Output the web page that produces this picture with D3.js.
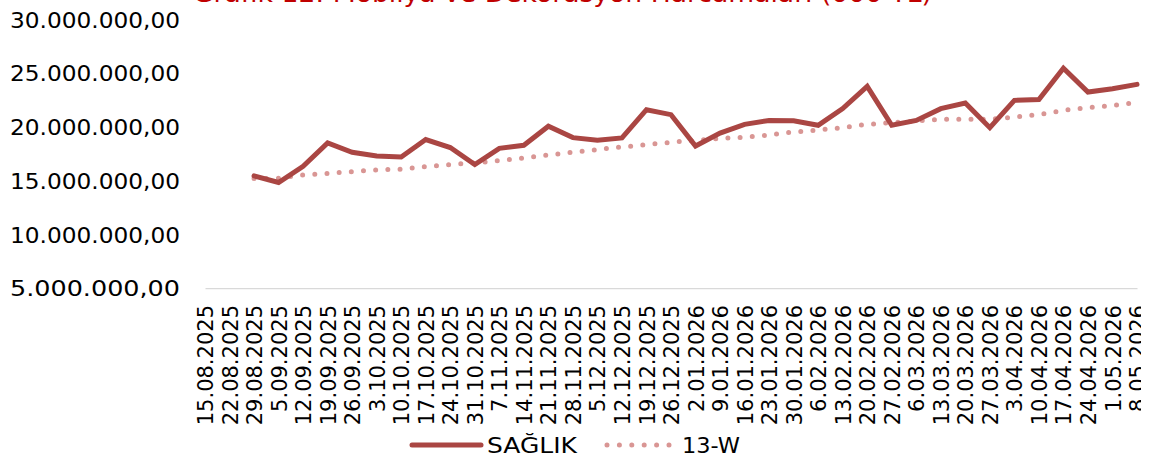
<!DOCTYPE html>
<html><head><meta charset="utf-8">
<script src="https://cdn.jsdelivr.net/npm/d3@7"></script>
<style>
html,body{margin:0;padding:0;background:#fff;}
svg{display:block;font-family:"DejaVu Sans","Noto Sans",sans-serif;}
</style></head>
<body><svg id="c" width="1149" height="459"></svg>
<script>
const categories = ["15.08.2025","22.08.2025","29.08.2025","5.09.2025","12.09.2025","19.09.2025","26.09.2025","3.10.2025","10.10.2025","17.10.2025","24.10.2025","31.10.2025","7.11.2025","14.11.2025","21.11.2025","28.11.2025","5.12.2025","12.12.2025","19.12.2025","26.12.2025","2.01.2026","9.01.2026","16.01.2026","23.01.2026","30.01.2026","6.02.2026","13.02.2026","20.02.2026","27.02.2026","6.03.2026","13.03.2026","20.03.2026","27.03.2026","3.04.2026","10.04.2026","17.04.2026","24.04.2026","1.05.2026","8.05.2026"];
const saglik = [null,null,15440000,14820000,16340000,18500000,17640000,17300000,17200000,18820000,18080000,16500000,18000000,18290000,20060000,19000000,18750000,18970000,21600000,21140000,18220000,19430000,20240000,20600000,20580000,20150000,21700000,23770000,20150000,20600000,21700000,22220000,19930000,22470000,22540000,25470000,23240000,23550000,23960000];
const w13 = [null,null,15190000,15220000,15530000,15660000,15840000,16000000,16060000,16310000,16500000,16650000,16870000,17110000,17390000,17640000,17890000,18130000,18350000,18570000,18750000,18940000,19030000,19250000,19530000,19710000,19930000,20240000,20400000,20550000,20700000,20730000,20700000,20920000,21140000,21540000,21790000,22000000,22260000];
const yTicks = [5000000,10000000,15000000,20000000,25000000,30000000];
const seriesNames = ["SAĞLIK","13-W"];
const title = "Grafik 12: Mobilya ve Dekorasyon Harcamaları (000 TL)";

const svg = d3.select("#c");
const x = d3.scalePoint().domain(categories).range([205,1137]);
const y = d3.scaleLinear().domain([5000000,30000000]).range([288,19.5]);
const fmt = v => d3.format(",.2f")(v).replace(/,/g,"#").replace(/\./g,",").replace(/#/g,".");

// title (clipped at top in reference)
svg.append("text").attr("x",193).attr("y",1.5).attr("fill","#c00000")
  .attr("font-size",24).attr("textLength",739).attr("lengthAdjust","spacingAndGlyphs")
  .text(title);

// y axis labels
const ya = svg.append("g").attr("transform","translate(180,0)")
  .call(d3.axisLeft(y).tickValues(yTicks).tickSize(0).tickPadding(0).tickFormat(fmt));
ya.select(".domain").remove();
ya.selectAll("text").attr("font-size",21.5).attr("fill","#000").attr("font-family","DejaVu Sans")
  .attr("textLength",170).attr("lengthAdjust","spacingAndGlyphs").attr("dy","0.36em");

// x axis
const clip = svg.append("clipPath").attr("id","cl").append("rect").attr("x",0).attr("y",0).attr("width",1141).attr("height",459);
const xa = svg.append("g").attr("transform","translate(0,288)").attr("clip-path","url(#cl)")
  .call(d3.axisBottom(x).tickSize(0).tickPadding(0));
xa.select(".domain").attr("stroke","#d9d9d9").attr("stroke-width",1.3);
xa.selectAll("text").attr("font-size",21).attr("fill","#000").attr("font-family","DejaVu Sans")
  .attr("text-anchor","end").attr("dy","0.36em")
  .attr("transform","translate(0,17) rotate(-90)").attr("x",0).attr("y",0);

const line = d3.line().defined(d=>d!=null).x((d,i)=>x(categories[i])).y(d=>y(d));
const mkLine = arr => d3.line().defined(d=>d.v!=null).x(d=>x(d.c)).y(d=>y(d.v))(arr.map((v,i)=>({c:categories[i],v})));

svg.append("path").attr("d",mkLine(w13)).attr("fill","none").attr("stroke","#d99694")
  .attr("stroke-width",5).attr("stroke-linecap","round").attr("stroke-dasharray","0 12.2");
svg.append("path").attr("d",mkLine(saglik)).attr("fill","none").attr("stroke","#aa4643")
  .attr("stroke-width",5).attr("stroke-linejoin","miter").attr("stroke-linecap","round");

// legend
const lg = svg.append("g");
lg.append("line").attr("x1",412).attr("x2",481).attr("y1",445).attr("y2",445)
  .attr("stroke","#aa4643").attr("stroke-width",5).attr("stroke-linecap","round");
lg.append("text").attr("x",487).attr("y",445).attr("dy","0.36em").attr("font-size",21)
  .attr("textLength",90).attr("lengthAdjust","spacingAndGlyphs").text(seriesNames[0]);
lg.append("line").attr("x1",607).attr("x2",669).attr("y1",445).attr("y2",445)
  .attr("stroke","#d99694").attr("stroke-width",5).attr("stroke-linecap","round").attr("stroke-dasharray","0 12.4");
lg.append("text").attr("x",682).attr("y",445).attr("dy","0.36em").attr("font-size",21)
  .attr("textLength",58).attr("lengthAdjust","spacingAndGlyphs").text(seriesNames[1]);
</script></body></html>
